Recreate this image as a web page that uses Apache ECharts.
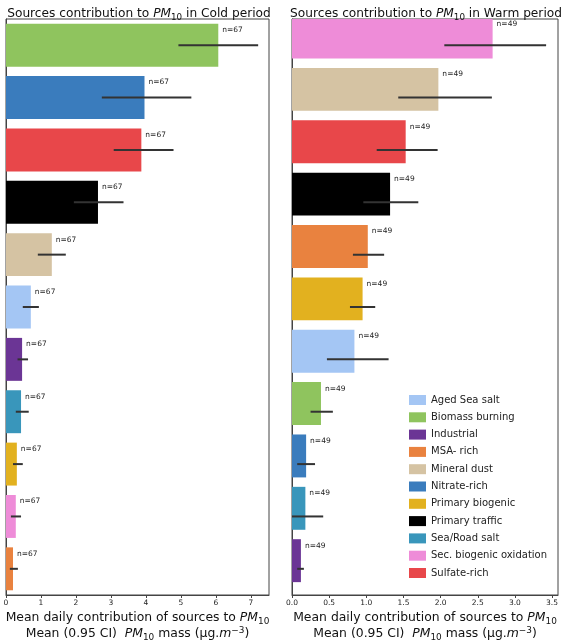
<!DOCTYPE html>
<html>
<head>
<meta charset="utf-8">
<script src="https://cdn.jsdelivr.net/npm/echarts@6/dist/echarts.min.js"></script>
<style>
html,body{margin:0;padding:0;background:#fff;}
#c{width:567px;height:643px;}
</style>
</head>
<body>
<div id="c"></div>
<script>
// ---- data ----
const coldCats = ['Biomass burning','Nitrate-rich','Sulfate-rich','Primary traffic','Mineral dust','Aged Sea salt','Industrial','Sea/Road salt','Primary biogenic','Sec. biogenic oxidation','MSA- rich'];
const coldMean = [6.07, 3.96, 3.87, 2.63, 1.31, 0.71, 0.46, 0.43, 0.31, 0.28, 0.20];
const coldLow  = [4.93, 2.74, 3.08, 1.94, 0.91, 0.48, 0.33, 0.28, 0.20, 0.14, 0.11];
const coldHigh = [7.21, 5.30, 4.79, 3.36, 1.71, 0.94, 0.63, 0.65, 0.48, 0.43, 0.34];
const coldN    = [67, 67, 67, 67, 67, 67, 67, 67, 67, 67, 67];

const warmCats = ['Sec. biogenic oxidation','Mineral dust','Sulfate-rich','Primary traffic','MSA- rich','Primary biogenic','Aged Sea salt','Biomass burning','Nitrate-rich','Sea/Road salt','Industrial'];
const warmMean = [2.70, 1.97, 1.53, 1.32, 1.02, 0.95, 0.84, 0.39, 0.19, 0.18, 0.12];
const warmLow  = [2.05, 1.43, 1.14, 0.96, 0.82, 0.78, 0.47, 0.25, 0.07, 0.00, 0.07];
const warmHigh = [3.42, 2.69, 1.96, 1.70, 1.24, 1.12, 1.30, 0.55, 0.31, 0.42, 0.16];
const warmN    = [49, 49, 49, 49, 49, 49, 49, 49, 49, 49, 49];

const legendNames = ['Aged Sea salt','Biomass burning','Industrial','MSA- rich','Mineral dust','Nitrate-rich','Primary biogenic','Primary traffic','Sea/Road salt','Sec. biogenic oxidation','Sulfate-rich'];
const coldTicks = [0,1,2,3,4,5,6,7];
const warmTicks = [0,0.5,1,1.5,2,2.5,3,3.5];

// ---- styles ----
const colors = {
  'Aged Sea salt':'#a4c6f4',
  'Biomass burning':'#8fc45e',
  'Industrial':'#6b3595',
  'MSA- rich':'#e9823f',
  'Mineral dust':'#d5c3a3',
  'Nitrate-rich':'#3a7cbd',
  'Primary biogenic':'#e2b11f',
  'Primary traffic':'#000000',
  'Sea/Road salt':'#3996bb',
  'Sec. biogenic oxidation':'#ee8cd8',
  'Sulfate-rich':'#e8474a'
};
const FONT = 'DejaVu Sans';
function mkRich(fs){
  const base = {fontFamily:FONT, fontWeight:'normal', color:'#111', lineHeight:16};
  return {
    i:Object.assign({}, base, {fontStyle:'italic', fontSize:fs, verticalAlign:'middle'}),
    sub:Object.assign({}, base, {fontSize:fs*0.72, verticalAlign:'bottom'}),
    sup:Object.assign({}, base, {fontSize:fs*0.72, verticalAlign:'top'}),
    n:Object.assign({}, base, {fontSize:fs, verticalAlign:'middle'})
  };
}
const richTitle = mkRich(12.2);
const richName = mkRich(12.4);
const grids = [
  {left:6, top:19, width:263, height:576},
  {left:292, top:19, width:266, height:576}
];

function barData(cats, mean){
  return cats.map((c,i)=>({value:mean[i], itemStyle:{color:colors[c]}}));
}
function errData(cats, lo, hi){
  return cats.map((c,i)=>[lo[i], hi[i], i]);
}
function errRender(params, api){
  const y = api.value(2);
  const p1 = api.coord([api.value(0), y]);
  const p2 = api.coord([api.value(1), y]);
  return {type:'line', shape:{x1:p1[0], y1:p1[1], x2:p2[0], y2:p2[1]},
          style:{stroke:'#333', lineWidth:2}};
}
const xName = '{n|Mean daily contribution of sources to }{i|PM}{sub|10}\n{n|Mean (0.95 CI)  }{i|PM}{sub|10}{n| mass (μg.}{i|m}{sup|−3}{n|)}';

const option = {
  animation:false,
  backgroundColor:'#fff',
  title:[
    {text:'{n|Sources contribution to }{i|PM}{sub|10}{n| in Cold period}', left:134, top:1, textAlign:'center', textStyle:{fontWeight:'normal', rich:richTitle}},
    {text:'{n|Sources contribution to }{i|PM}{sub|10}{n| in Warm period}', left:421, top:1, textAlign:'center', textStyle:{fontWeight:'normal', rich:richTitle}}
  ],
  grid:grids.map(g=>Object.assign({show:true, borderColor:'#444', borderWidth:1, containLabel:false, outerBoundsMode:'none'}, g)),
  xAxis:[
    {gridIndex:0, type:'value', min:0, max:7.52, interval:1,
     splitLine:{show:false}, axisLine:{show:true, lineStyle:{color:'#444'}},
     axisTick:{show:true, length:3, lineStyle:{color:'#444'}, customValues:coldTicks},
     axisLabel:{fontFamily:FONT, fontSize:7.5, color:'#222', margin:4, customValues:coldTicks},
     name:xName, nameLocation:'middle', nameGap:15, nameTextStyle:{fontWeight:'normal', rich:richName}},
    {gridIndex:1, type:'value', min:0, max:3.58, interval:0.5,
     splitLine:{show:false}, axisLine:{show:true, lineStyle:{color:'#444'}},
     axisTick:{show:true, length:3, lineStyle:{color:'#444'}, customValues:warmTicks},
     axisLabel:{fontFamily:FONT, fontSize:7.5, color:'#222', margin:4, customValues:warmTicks, formatter:v=>Number(v).toFixed(1)},
     name:xName, nameLocation:'middle', nameGap:15, nameTextStyle:{fontWeight:'normal', rich:richName}}
  ],
  yAxis:[
    {gridIndex:0, type:'category', data:coldCats, inverse:true, axisLabel:{show:false}, axisTick:{show:false}, axisLine:{show:true, lineStyle:{color:'#444'}}},
    {gridIndex:1, type:'category', data:warmCats, inverse:true, axisLabel:{show:false}, axisTick:{show:false}, axisLine:{show:true, lineStyle:{color:'#444'}}}
  ],
  legend:{
    orient:'vertical', left:404, top:390, itemWidth:17, itemHeight:10, itemGap:7.3,
    icon:'rect', data:legendNames,
    textStyle:{fontFamily:FONT, fontSize:10, color:'#222'}
  },
  series:[
    {type:'bar', xAxisIndex:0, yAxisIndex:0, barWidth:'82%', data:barData(coldCats, coldMean),
     label:{show:true, position:'right', distance:4, offset:[0,-15], formatter:p=>'n='+coldN[p.dataIndex], fontFamily:FONT, fontSize:7.5, color:'#222'}},
    {type:'custom', xAxisIndex:0, yAxisIndex:0, renderItem:errRender, encode:{x:[0,1], y:2}, data:errData(coldCats, coldLow, coldHigh), z:5},
    {type:'bar', xAxisIndex:1, yAxisIndex:1, barWidth:'82%', data:barData(warmCats, warmMean),
     label:{show:true, position:'right', distance:4, offset:[0,-15], formatter:p=>'n='+warmN[p.dataIndex], fontFamily:FONT, fontSize:7.5, color:'#222'}},
    {type:'custom', xAxisIndex:1, yAxisIndex:1, renderItem:errRender, encode:{x:[0,1], y:2}, data:errData(warmCats, warmLow, warmHigh), z:5}
  ].concat(legendNames.map(n=>({type:'bar', name:n, xAxisIndex:1, yAxisIndex:1, data:[], itemStyle:{color:colors[n]}})))
};
const chart = echarts.init(document.getElementById('c'), null, {renderer:'canvas'});
chart.setOption(option);
</script>
</body>
</html>
